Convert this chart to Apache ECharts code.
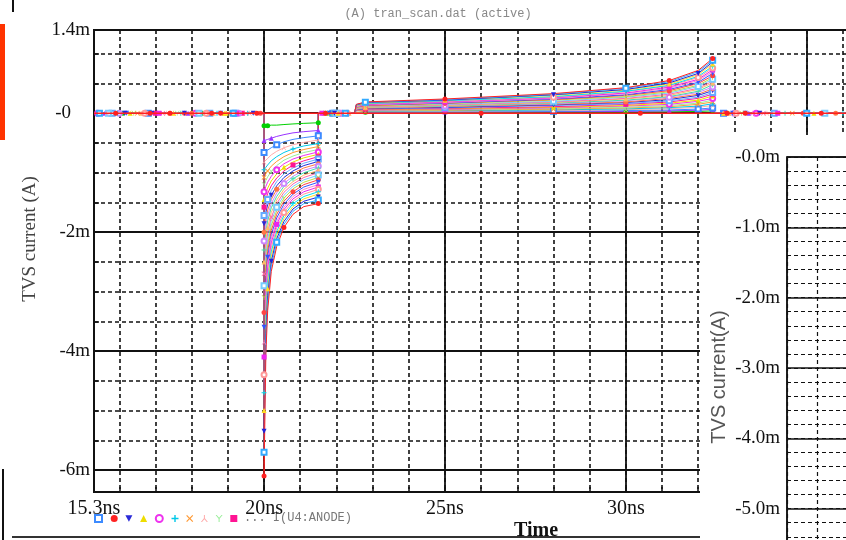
<!DOCTYPE html>
<html>
<head>
<meta charset="UTF-8">
<title>tran_scan.dat (active)</title>
<script src="https://cdn.jsdelivr.net/npm/echarts@6/dist/echarts.min.js"></script>
<style>
html, body { margin: 0; padding: 0; background: #fff; }
#main { width: 846px; height: 540px; }
</style>
</head>
<body>
<div id="main"></div>
<script type="text/javascript">
// 轴刻度
var xMin = 15.3, xMax = 36.5;
var xLabelValues = [15.3, 20, 25, 30, 35];
var xTickValues = [16, 17, 18, 19, 20, 21, 22, 23, 24, 25, 26, 27, 28, 29, 30, 31, 32, 33, 34, 35, 36];
var xMajorValues = [20, 25, 30, 35];
var yMin = -6.37, yMax = 1.4;
var yLabelValues = [1.4, 0, -2, -4, -6];
var yTickValues = [-6, -5.5, -5, -4.5, -4, -3.5, -3, -2.5, -2, -1.5, -1, -0.5, 0, 0.5, 1];
var yMajorValues = [-6, -4, -2, 0];
var zoomLabelValues = [0, -1, -2, -3, -4, -5];
var zoomTickValues = [0, -0.2, -0.4, -0.6, -0.8, -1, -1.2, -1.4, -1.6, -1.8, -2, -2.2, -2.4, -2.6, -2.8,
  -3, -3.2, -3.4, -3.6, -3.8, -4, -4.2, -4.4, -4.6, -4.8, -5, -5.2, -5.4, -5.6, -5.8];
var zoomMajorValues = [0, -1, -2, -3, -4, -5, -6];

// 负脉冲 (mA)
var pulseTimes = [20.0, 20.05, 20.1, 20.2, 20.35, 20.55, 20.8, 21.1, 21.5];
var pulseValues = [
  [-0.21, -0.21, -0.21, -0.2, -0.2, -0.19, -0.18, -0.17, -0.16],
  [-0.46, -0.45, -0.44, -0.42, -0.39, -0.36, -0.33, -0.31, -0.29],
  [-0.66, -0.64, -0.62, -0.58, -0.53, -0.48, -0.44, -0.41, -0.38],
  [-0.82, -0.79, -0.76, -0.70, -0.64, -0.58, -0.53, -0.49, -0.45],
  [-0.95, -0.91, -0.87, -0.80, -0.73, -0.66, -0.60, -0.55, -0.51],
  [-1.08, -1.02, -0.97, -0.89, -0.81, -0.73, -0.66, -0.61, -0.56],
  [-1.2, -1.13, -1.07, -0.98, -0.88, -0.79, -0.72, -0.66, -0.61],
  [-1.32, -1.23, -1.16, -1.06, -0.95, -0.85, -0.77, -0.71, -0.65],
  [-1.45, -1.34, -1.26, -1.14, -1.02, -0.91, -0.82, -0.75, -0.69],
  [-1.58, -1.45, -1.35, -1.22, -1.09, -0.97, -0.87, -0.8, -0.73],
  [-1.72, -1.56, -1.45, -1.3, -1.15, -1.02, -0.92, -0.84, -0.77],
  [-1.86, -1.67, -1.54, -1.38, -1.22, -1.08, -0.97, -0.88, -0.81],
  [-2.0, -1.78, -1.63, -1.45, -1.28, -1.13, -1.01, -0.92, -0.85],
  [-2.15, -1.89, -1.72, -1.52, -1.34, -1.18, -1.06, -0.96, -0.89],
  [-2.3, -2.0, -1.81, -1.59, -1.4, -1.23, -1.1, -1.0, -0.92],
  [-2.5, -2.14, -1.92, -1.67, -1.46, -1.28, -1.15, -1.04, -0.96],
  [-2.7, -2.27, -2.02, -1.75, -1.52, -1.33, -1.19, -1.08, -1.0],
  [-2.9, -2.4, -2.12, -1.82, -1.58, -1.38, -1.23, -1.12, -1.04],
  [-3.1, -2.52, -2.21, -1.89, -1.64, -1.43, -1.27, -1.16, -1.08],
  [-3.35, -2.67, -2.32, -1.97, -1.7, -1.48, -1.32, -1.2, -1.12],
  [-3.6, -2.81, -2.42, -2.04, -1.76, -1.53, -1.36, -1.24, -1.16],
  [-3.85, -2.95, -2.52, -2.11, -1.82, -1.58, -1.4, -1.28, -1.2],
  [-4.1, -3.08, -2.62, -2.18, -1.87, -1.62, -1.44, -1.32, -1.24],
  [-4.4, -3.24, -2.73, -2.26, -1.93, -1.67, -1.48, -1.36, -1.28],
  [-4.7, -3.39, -2.84, -2.33, -1.99, -1.72, -1.52, -1.4, -1.32],
  [-5.0, -3.54, -2.95, -2.41, -2.05, -1.77, -1.57, -1.44, -1.36],
  [-5.35, -3.7, -3.07, -2.49, -2.11, -1.82, -1.61, -1.48, -1.41],
  [-5.7, -3.87, -3.19, -2.57, -2.17, -1.87, -1.65, -1.52, -1.46],
  [-6.1, -4.05, -3.32, -2.66, -2.24, -1.92, -1.7, -1.57, -1.52]
];

// 正向段 (mA)
var riseStart = 22.5;
var riseTimes = [22.55, 22.8, 25, 28, 30, 31.2, 32, 32.4];
var riseValues = [
  [0.01, 0.015, 0.015, 0.02, 0.02, 0.025, 0.03, 0.04],
  [0.012, 0.018, 0.02, 0.025, 0.03, 0.04, 0.05, 0.065],
  [0.015, 0.02, 0.025, 0.035, 0.045, 0.055, 0.07, 0.09],
  [0.02, 0.027, 0.034, 0.046, 0.06, 0.077, 0.1, 0.13],
  [0.026, 0.033, 0.041, 0.056, 0.073, 0.094, 0.12, 0.16],
  [0.031, 0.04, 0.05, 0.068, 0.089, 0.11, 0.15, 0.19],
  [0.036, 0.046, 0.058, 0.08, 0.1, 0.13, 0.17, 0.22],
  [0.041, 0.052, 0.066, 0.091, 0.12, 0.15, 0.2, 0.25],
  [0.047, 0.059, 0.074, 0.1, 0.13, 0.17, 0.22, 0.29],
  [0.052, 0.066, 0.083, 0.11, 0.15, 0.19, 0.25, 0.32],
  [0.057, 0.072, 0.091, 0.13, 0.16, 0.21, 0.27, 0.35],
  [0.062, 0.079, 0.099, 0.14, 0.18, 0.23, 0.3, 0.38],
  [0.067, 0.085, 0.11, 0.15, 0.19, 0.25, 0.32, 0.41],
  [0.072, 0.092, 0.12, 0.16, 0.21, 0.27, 0.35, 0.44],
  [0.078, 0.098, 0.12, 0.17, 0.22, 0.28, 0.37, 0.48],
  [0.083, 0.1, 0.13, 0.18, 0.24, 0.3, 0.4, 0.51],
  [0.088, 0.11, 0.14, 0.19, 0.25, 0.32, 0.42, 0.54],
  [0.093, 0.12, 0.15, 0.2, 0.27, 0.34, 0.45, 0.57],
  [0.098, 0.12, 0.16, 0.22, 0.28, 0.36, 0.47, 0.6],
  [0.1, 0.13, 0.17, 0.23, 0.3, 0.38, 0.5, 0.63],
  [0.11, 0.14, 0.17, 0.24, 0.31, 0.4, 0.52, 0.67],
  [0.11, 0.14, 0.18, 0.25, 0.33, 0.42, 0.55, 0.7],
  [0.12, 0.15, 0.19, 0.26, 0.34, 0.44, 0.57, 0.73],
  [0.12, 0.16, 0.2, 0.27, 0.36, 0.46, 0.6, 0.76],
  [0.13, 0.16, 0.21, 0.28, 0.37, 0.47, 0.62, 0.79],
  [0.13, 0.17, 0.22, 0.3, 0.39, 0.49, 0.65, 0.83],
  [0.14, 0.18, 0.22, 0.31, 0.4, 0.51, 0.67, 0.86],
  [0.145, 0.185, 0.23, 0.32, 0.42, 0.53, 0.7, 0.89],
  [0.15, 0.19, 0.24, 0.33, 0.43, 0.55, 0.72, 0.92]
];

// 零电流段上的标记时刻 (ns): 前, 前, 中, 后
var zeroMarks = [
  [16.1, 18.3, 21.7, 32.8], [15.6, 17.9, 22.0, 33.4], [16.8, 19.2, 21.9, 32.7],
  [17.3, 19.6, 22.2, 33.9], [15.9, 18.7, 21.8, 33.1], [16.5, 19.0, 22.3, 34.6],
  [17.6, 19.8, 21.6, 32.9], [15.4, 18.1, 22.1, 33.6], [16.3, 18.9, 21.75, 35.2],
  [17.0, 19.4, 22.25, 32.75], [15.8, 18.5, 21.95, 34.1], [16.9, 19.7, 22.05, 33.3],
  [17.4, 18.0, 21.65, 35.8], [16.0, 19.3, 22.15, 33.0], [15.5, 17.7, 21.85, 34.4],
  [16.6, 18.6, 22.35, 32.85], [17.2, 19.5, 21.7, 33.8], [15.7, 18.2, 22.0, 35.5],
  [16.4, 19.1, 21.9, 33.2], [17.8, 19.9, 22.2, 34.9], [16.2, 18.8, 21.8, 32.95],
  [15.65, 17.5, 22.1, 33.5], [17.1, 19.25, 21.6, 34.2], [16.7, 18.4, 22.3, 33.05],
  [15.95, 19.55, 21.75, 36.0], [17.5, 18.95, 22.05, 32.7], [16.15, 17.8, 21.95, 33.7],
  [15.45, 19.15, 22.25, 35.0], [16.85, 18.55, 21.7, 32.8]
];
var zeroTraceMarks = [15.9, 17.4, 18.8, 19.8, 26.0, 30.4, 33.3, 35.4];

var traceColors = ['#00d000', '#9933ff', '#3d8bff', '#ffaaaa', '#00c8e8', '#ff9933', '#99ee99', '#ee33ee',
  '#eedd00', '#ff1493', '#66aaff', '#2a2ad8', '#ff7744', '#cc88ff', '#44ddaa', '#ffbb66', '#ff66aa',
  '#77ccff', '#bbdd44', '#ff4444', '#3355ff', '#ff88cc', '#ee22ee', '#ff9999', '#00e0f0', '#ffdd22',
  '#2222dd', '#33aaff', '#ff2222'];
var traceSymbols = ['circle', 'triangle', 'emptyRect', 'lambda', 'plus', 'cross', 'ypsilon', 'emptyCircle',
  'triangle', 'rect', 'emptyRect', 'triDown', 'circle', 'emptyCircle', 'plus', 'triangle', 'cross',
  'emptyRect', 'ypsilon', 'circle', 'triDown', 'lambda', 'rect', 'emptyCircle', 'plus', 'triangle',
  'triDown', 'emptyRect', 'circle'];
var legendOrder = [2, 28, 11, 8, 7, 4, 5, 3, 6, 9];

var symbolPaths = {
  emptyRect: 'emptyRect', circle: 'circle', triangle: 'triangle', emptyCircle: 'emptyCircle', rect: 'rect',
  triDown: 'path://M0,0L10,0L5,9Z',
  plus: 'path://M4,0H6V4H10V6H6V10H4V6H0V4H4Z',
  cross: 'path://M1.2,0L5,3.8L8.8,0L10,1.2L6.2,5L10,8.8L8.8,10L5,6.2L1.2,10L0,8.8L3.8,5L0,1.2Z',
  lambda: 'path://M4.3,0H5.7V4.6L10,10H8.4L5,6L1.6,10H0L4.3,4.6Z',
  ypsilon: 'path://M0,0H1.6L5,4L8.4,0H10L5.7,5.4V10H4.3V5.4Z'
};

var ink = '#111';
var dashed = [4, 3];

function plain(t, v) { return { value: [t, v], symbol: 'none' }; }

var names = [];
var series = [];
for (var k = 0; k < pulseValues.length; k++) {
  var p = pulseValues[k], r = riseValues[k], z = zeroMarks[k];
  var last = pulseTimes.length - 1, rLast = riseTimes.length - 1;
  var d = [];
  d.push(plain(xMin, 0));
  d.push([z[0], 0]);
  d.push([z[1], 0]);
  d.push(plain(pulseTimes[0], 0));
  for (var i = 0; i < pulseTimes.length; i++) {
    var on = i === 0 || i === (k % 5) + 2 || i === last;
    d.push(on ? [pulseTimes[i], p[i]] : plain(pulseTimes[i], p[i]));
  }
  d.push(plain(pulseTimes[last], 0));
  d.push([z[2], 0]);
  d.push(plain(riseStart, 0));
  for (var j = 0; j < riseTimes.length; j++) {
    var on2 = j === (k % 3) + 1 || j === (k % 3) + 4 || j === rLast;
    d.push(on2 ? [riseTimes[j], r[j]] : plain(riseTimes[j], r[j]));
  }
  d.push(plain(riseTimes[rLast], 0));
  d.push([z[3], 0]);
  d.push(plain(xMax, 0));

  var nm = 'I(U4:ANODE) #' + (k + 1);
  names.push(nm);
  series.push({
    name: nm,
    type: 'line',
    xAxisIndex: 0,
    yAxisIndex: 0,
    data: d,
    symbol: symbolPaths[traceSymbols[k]],
    symbolSize: 5,
    showSymbol: true,
    lineStyle: { color: traceColors[k], width: 1 },
    itemStyle: { color: traceColors[k], borderWidth: 1 },
    emphasis: { disabled: true },
    silent: true,
    z: 2
  });
}

// 始终为零的那条
var zd = [plain(xMin, 0)];
for (var m = 0; m < zeroTraceMarks.length; m++) zd.push([zeroTraceMarks[m], 0]);
zd.push(plain(xMax, 0));
series.push({
  name: 'I(U4:ANODE) #0',
  type: 'line',
  xAxisIndex: 0,
  yAxisIndex: 0,
  data: zd,
  symbol: 'circle',
  symbolSize: 5,
  lineStyle: { color: '#ff2020', width: 1.5 },
  itemStyle: { color: '#ff2020' },
  emphasis: { disabled: true },
  silent: true,
  z: 3
});

var legendData = legendOrder.map(function (k) {
  return { name: names[k], icon: symbolPaths[traceSymbols[k]] };
});

var myChart = echarts.init(document.getElementById('main'));
var option = {
  animation: false,
  backgroundColor: '#fff',
  grid: [
    { left: 94, top: 30, width: 767, height: 462, outerBoundsMode: 'none', containLabel: false,
      show: true, borderColor: ink, borderWidth: 2 },
    { left: 787, top: 157, width: 90, height: 422, outerBoundsMode: 'none', containLabel: false,
      show: true, borderColor: ink, borderWidth: 1.5, z: 12 }
  ],
  xAxis: [
    {
      type: 'value', gridIndex: 0, min: xMin, max: xMax,
      axisLine: { onZero: false, lineStyle: { color: ink, width: 2 } },
      axisTick: { inside: true, length: 5, customValues: xTickValues, lineStyle: { color: ink, width: 1.5 } },
      axisLabel: {
        customValues: xLabelValues, margin: 7, color: ink,
        fontFamily: 'Liberation Serif', fontSize: 20,
        formatter: function (v) { return v + 'ns'; }
      },
      splitLine: { show: true, lineStyle: { color: ink, width: 1.6, type: dashed } }
    },
    {
      type: 'value', gridIndex: 0, min: xMin, max: xMax,
      axisLine: { show: false },
      axisTick: { show: false, customValues: xMajorValues },
      axisLabel: { show: false },
      splitLine: { show: true, lineStyle: { color: ink, width: 1.8 } }
    },
    {
      type: 'value', gridIndex: 1, min: 0, max: 3, interval: 1, z: 13,
      axisLine: { show: false }, axisTick: { show: false }, axisLabel: { show: false },
      splitLine: { show: true, lineStyle: { color: ink, width: 1.2, type: dashed } }
    }
  ],
  yAxis: [
    {
      type: 'value', gridIndex: 0, min: yMin, max: yMax,
      axisLine: { show: true, onZero: false, lineStyle: { color: ink, width: 2 } },
      axisTick: { show: true, inside: true, length: 5, customValues: yTickValues, lineStyle: { color: ink, width: 1.5 } },
      axisLabel: {
        customValues: yLabelValues, margin: 4, color: ink,
        fontFamily: 'Liberation Serif', fontSize: 19,
        formatter: function (v) { return v === 0 ? '-0\u2003' : v + 'm'; }
      },
      splitLine: { show: true, lineStyle: { color: ink, width: 1.6, type: dashed } }
    },
    {
      type: 'value', gridIndex: 0, min: yMin, max: yMax,
      axisLine: { show: false },
      axisTick: { show: false, customValues: yMajorValues },
      axisLabel: { show: false },
      splitLine: { show: true, lineStyle: { color: ink, width: 1.8 } }
    },
    {
      type: 'value', gridIndex: 1, min: -6, max: 0, z: 13,
      axisLine: { show: true, onZero: false, lineStyle: { color: ink, width: 1.5 } },
      axisTick: { show: true, inside: true, length: 4, customValues: zoomTickValues, lineStyle: { color: ink } },
      axisLabel: {
        customValues: zoomLabelValues, margin: 7, color: ink,
        fontFamily: 'Liberation Serif', fontSize: 19,
        formatter: function (v) { return v === 0 ? '-0.0m' : v.toFixed(1) + 'm'; }
      },
      splitLine: { show: true, lineStyle: { color: ink, width: 1.1, type: dashed } }
    },
    {
      type: 'value', gridIndex: 1, min: -6, max: 0, z: 13,
      axisLine: { show: false },
      axisTick: { show: false, customValues: zoomMajorValues },
      axisLabel: { show: false },
      splitLine: { show: true, lineStyle: { color: ink, width: 1.5 } }
    }
  ],
  legend: {
    data: legendData,
    left: 94, top: 514, padding: 0,
    itemWidth: 7, itemHeight: 7, itemGap: 7.7,
    selectedMode: false,
    formatter: function () { return ''; }
  },
  graphic: [
    { type: 'text', x: 438, y: 14, style: { text: '(A) tran_scan.dat (active)', align: 'center', verticalAlign: 'middle', fontFamily: 'Liberation Mono', fontSize: 12, fill: '#888' } },
    { type: 'rect', shape: { x: 0, y: 24, width: 5, height: 116 }, style: { fill: '#ff3300' } },
    { type: 'rect', shape: { x: 12, y: 0, width: 2, height: 12 }, style: { fill: '#111' } },
    { type: 'rect', shape: { x: 2, y: 469, width: 2, height: 71 }, style: { fill: '#111' } },
    { type: 'rect', shape: { x: 12, y: 536, width: 690, height: 2 }, style: { fill: '#333' } },
    { type: 'text', x: 30, y: 239, rotation: Math.PI / 2, style: { text: 'TVS current (A)', align: 'center', verticalAlign: 'middle', fontFamily: 'Liberation Serif', fontSize: 19, fill: '#444' } },
    { type: 'text', x: 536, y: 531, style: { text: 'Time', align: 'center', verticalAlign: 'middle', fontFamily: 'Liberation Serif', fontWeight: 'bold', fontSize: 20, fill: '#111' } },
    { type: 'text', x: 244, y: 518, style: { text: '... I(U4:ANODE)', align: 'left', verticalAlign: 'middle', fontFamily: 'Liberation Mono', fontSize: 12, fill: '#777' } },
    { type: 'rect', z: 10, shape: { x: 700, y: 135, width: 146, height: 405 }, style: { fill: '#fff' } },
    { type: 'text', z: 14, x: 719, y: 377, rotation: Math.PI / 2, style: { text: 'TVS current(A)', align: 'center', verticalAlign: 'middle', fontFamily: 'Liberation Sans', fontSize: 20, fill: '#555' } }
  ],
  series: series
};
myChart.setOption(option);
</script>
</body>
</html>
